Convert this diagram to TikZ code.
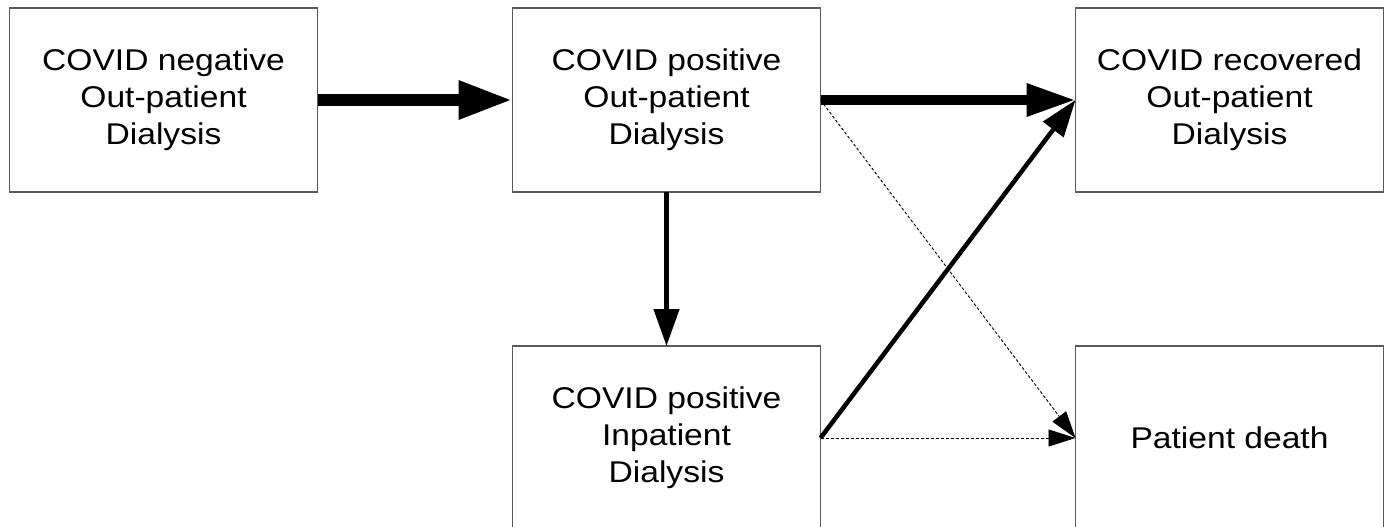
\documentclass[tikz,border=0pt]{standalone}
\usepackage{fontspec}
\setmainfont{Liberation Sans}[FakeStretch=1.12]
\usepackage{tikz}
\usetikzlibrary{arrows.meta, positioning}

\tikzset{
    state/.style={draw=black!65, line width=1.2pt, rectangle, minimum width=308pt, minimum height=184pt,
        outer sep=0pt, align=center, font=\fontsize{30}{37}\selectfont},
    bigflow/.style={line width=12pt, -{Triangle[length=54pt, width=36pt]}},
    midflow/.style={line width=9.5pt, -{Triangle[length=49pt, width=31pt]}},
    flow/.style={line width=4.5pt, -{Triangle[length=37pt, width=25pt]}},
    thinflow/.style={line width=0.9pt, dash pattern=on 3pt off 2pt, -{Triangle[length=27pt, width=17pt]}}
}

\begin{document}
\begin{tikzpicture}
    \useasboundingbox (0,0) rectangle (1386pt,-527pt);

    % States
    \node[state] (NegOut) at (163.5pt,-100pt) {COVID negative\\Out-patient\\Dialysis};
    \node[state, right=195pt of NegOut] (PosOut) {COVID positive\\Out-patient\\Dialysis};
    \node[state, right=255pt of PosOut] (RecOut) {COVID recovered\\Out-patient\\Dialysis};
    \node[state, below=154pt of PosOut] (PosIn) {COVID positive\\Inpatient\\Dialysis};
    \node[state, below=154pt of RecOut] (Death) {Patient death};

    % Transitions
    \draw[bigflow] (NegOut.east) -- (PosOut.west);
    \draw[midflow] (PosOut.east) -- (RecOut.west);
    \draw[flow] (PosOut.south) -- (PosIn.north);
    \draw[flow] (PosIn.east) -- (RecOut.west);
    \draw[thinflow] (PosOut.east) -- (Death.west);
    \draw[thinflow] (PosIn.east) -- (Death.west);
\end{tikzpicture}
\end{document}
